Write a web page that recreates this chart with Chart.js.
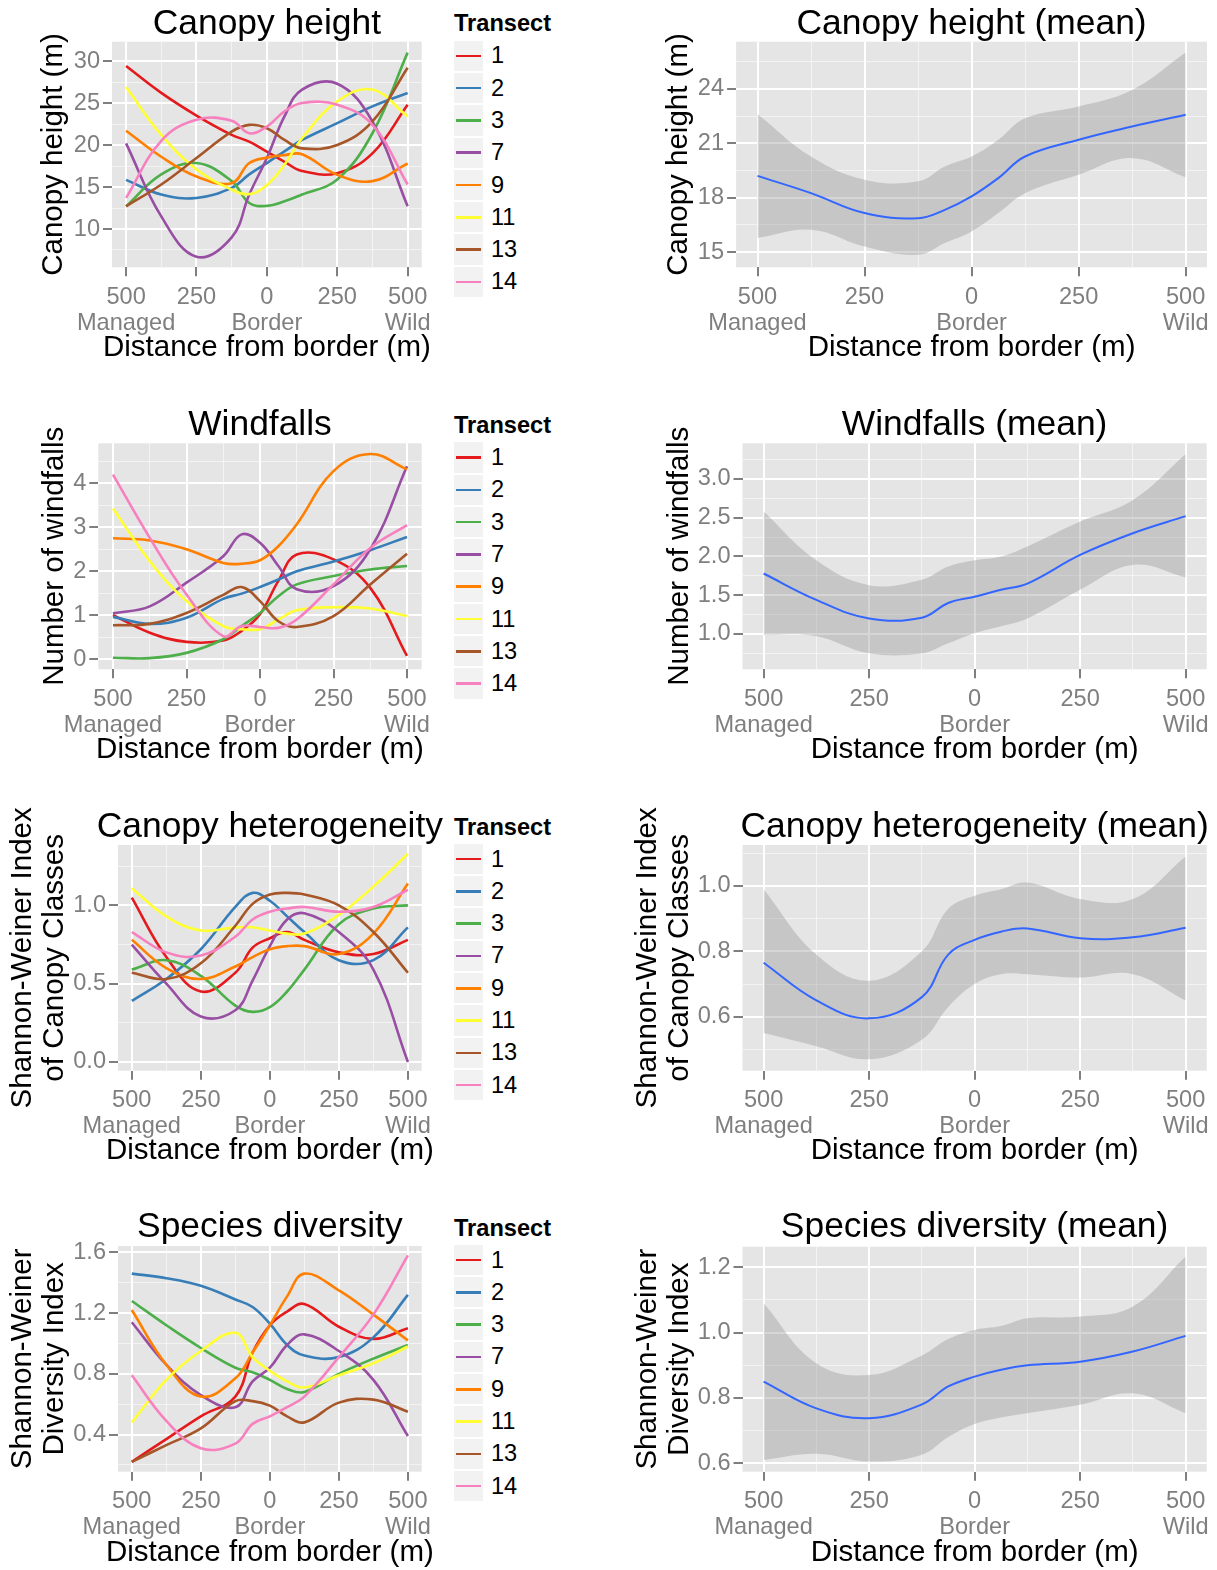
<!DOCTYPE html>
<html>
<head>
<meta charset="utf-8">
<script src="https://cdn.jsdelivr.net/npm/chart.js@4.4.0/dist/chart.umd.min.js"></script>
<style>
  body { margin: 0; width: 1217px; height: 1570px; overflow: hidden; background: #fff; position: relative; font-family: "Liberation Sans", Arial, sans-serif; }
  canvas { position: absolute; }
  .legend { position: absolute; left: 454px; }
  .legend .head { font-weight: bold; font-size: 23.6px; height: 30px; line-height: 30px; margin-bottom: 2.4px; white-space: nowrap; color: #000; }
  .legend .row { display: flex; align-items: center; height: 30.3px; margin-bottom: 2px; }
  .legend .key { width: 29px; height: 30.3px; background: #f2f2f2; position: relative; }
  .legend .key i { position: absolute; left: 2px; right: 2px; top: 50%; height: 2.6px; margin-top: -1.3px; }
  .legend .lab { margin-left: 8px; font-size: 23.6px; color: #000; }
</style>
</head>
<body>
<script>
// distance along transect (negative = managed side, positive = wild side)
const xs = [-500, -375, -250, -125, -62.5, 0, 62.5, 125, 250, 375, 500];
const transects = ['1', '2', '3', '7', '9', '11', '13', '14'];
const transectColors = ['#E41A1C', '#377EB8', '#4DAF4A', '#984EA3', '#FF7F00', '#FFFF33', '#A65628', '#F781BF'];

// x axis ticks
const xMajor = [-500, -250, 0, 250, 500];
const xMinor = [-375, -125, 125, 375];
const xTickText = [['500', 'Managed'], '250', ['0', 'Border'], '250', ['500', 'Wild']];

// one row per transect, same order as transects
const canopyHeight = [
  [29.4, 26.2, 23.5, 21.2, 20.4, 19.2, 18.0, 16.9, 16.65, 19.0, 24.8],
  [15.85, 14.1, 13.7, 14.9, 16.5, 17.85, 19.25, 20.6, 22.6, 24.6, 26.2],
  [12.7, 16.5, 17.85, 15.7, 13.1, 12.75, 13.3, 14.1, 15.9, 21.4, 31.0],
  [20.2, 11.5, 6.7, 9.0, 14.1, 18.45, 23.4, 26.6, 27.3, 22.8, 12.7],
  [21.7, 18.6, 16.25, 15.45, 17.85, 18.5, 18.8, 18.9, 16.45, 15.7, 17.8],
  [26.9, 21.2, 17.1, 14.7, 14.15, 15.25, 17.65, 20.8, 25.2, 26.6, 23.4],
  [12.7, 15.3, 18.45, 21.6, 22.4, 22.0, 20.6, 19.6, 20.0, 22.8, 29.2],
  [13.7, 20.5, 23.0, 22.9, 21.4, 22.2, 24.0, 25.0, 24.8, 22.4, 15.3]
];
const windfalls = [
  [1.0, 0.6, 0.39, 0.42, 0.64, 1.02, 1.78, 2.38, 2.27, 1.62, 0.07],
  [0.96, 0.8, 0.94, 1.37, 1.49, 1.64, 1.81, 2.0, 2.22, 2.48, 2.78],
  [0.03, 0.02, 0.14, 0.45, 0.75, 1.05, 1.43, 1.7, 1.89, 2.04, 2.12],
  [1.04, 1.2, 1.74, 2.34, 2.84, 2.65, 2.12, 1.59, 1.66, 2.5, 4.39],
  [2.75, 2.7, 2.5, 2.19, 2.17, 2.25, 2.57, 3.07, 4.28, 4.67, 4.32],
  [3.43, 2.23, 1.32, 0.75, 0.68, 0.68, 0.9, 1.11, 1.18, 1.15, 0.98],
  [0.77, 0.8, 1.05, 1.46, 1.64, 1.32, 0.86, 0.73, 0.98, 1.7, 2.4],
  [4.2, 2.76, 1.47, 0.52, 0.75, 0.73, 0.71, 0.9, 1.7, 2.53, 3.05]
];
const canopyHet = [
  [1.05, 0.67, 0.45, 0.57, 0.73, 0.79, 0.83, 0.78, 0.70, 0.69, 0.78],
  [0.39, 0.53, 0.72, 0.99, 1.08, 1.03, 0.93, 0.83, 0.65, 0.65, 0.86],
  [0.59, 0.65, 0.55, 0.36, 0.32, 0.35, 0.45, 0.59, 0.88, 0.98, 1.0],
  [0.75, 0.5, 0.29, 0.33, 0.52, 0.74, 0.91, 0.95, 0.83, 0.59, 0.0],
  [0.78, 0.6, 0.53, 0.61, 0.67, 0.72, 0.74, 0.74, 0.69, 0.82, 1.14],
  [1.11, 0.93, 0.84, 0.86, 0.86, 0.84, 0.82, 0.82, 0.94, 1.12, 1.33],
  [0.57, 0.53, 0.63, 0.87, 1.01, 1.07, 1.08, 1.07, 1.0, 0.83, 0.57],
  [0.83, 0.7, 0.68, 0.8, 0.91, 0.96, 0.98, 0.99, 0.96, 0.99, 1.1]
];
const speciesDiv = [
  [0.22, 0.37, 0.52, 0.65, 0.94, 1.12, 1.21, 1.26, 1.11, 1.03, 1.1],
  [1.46, 1.43, 1.38, 1.29, 1.24, 1.13, 0.99, 0.92, 0.91, 1.04, 1.32],
  [1.28, 1.12, 0.97, 0.84, 0.81, 0.76, 0.7, 0.68, 0.8, 0.9, 0.99],
  [1.14, 0.86, 0.66, 0.58, 0.75, 0.84, 0.99, 1.06, 0.95, 0.76, 0.39],
  [1.22, 0.86, 0.65, 0.77, 0.94, 1.12, 1.31, 1.46, 1.35, 1.19, 1.02],
  [0.48, 0.76, 0.95, 1.07, 0.91, 0.82, 0.75, 0.71, 0.79, 0.87, 0.98],
  [0.22, 0.33, 0.44, 0.62, 0.62, 0.59, 0.52, 0.48, 0.61, 0.63, 0.55],
  [0.79, 0.49, 0.31, 0.34, 0.47, 0.52, 0.58, 0.65, 0.91, 1.19, 1.58]
];

// smoothed means with confidence band
const canopyMean = [19.2, 18.25, 17.15, 16.87, 17.33, 18.07, 19.08, 20.27, 21.19, 21.92, 22.57];
const canopyUpper = [22.62, 20.27, 18.99, 18.9, 19.72, 20.27, 21.19, 22.38, 23.03, 23.94, 26.0];
const canopyLower = [15.77, 16.23, 15.31, 14.85, 15.5, 16.14, 17.15, 18.25, 19.26, 20.18, 19.13];
const windMean = [1.78, 1.44, 1.2, 1.21, 1.4, 1.48, 1.57, 1.65, 2.02, 2.3, 2.52];
const windUpper = [2.58, 1.95, 1.63, 1.7, 1.87, 1.95, 2.0, 2.13, 2.45, 2.73, 3.32];
const windLower = [0.99, 0.97, 0.75, 0.75, 0.88, 1.01, 1.1, 1.2, 1.57, 1.89, 1.73];
const hetMean = [0.765, 0.65, 0.595, 0.66, 0.79, 0.835, 0.86, 0.87, 0.84, 0.843, 0.872];
const hetUpper = [0.99, 0.79, 0.71, 0.8, 0.93, 0.97, 0.99, 1.01, 0.96, 0.96, 1.09];
const hetLower = [0.55, 0.51, 0.47, 0.53, 0.63, 0.70, 0.73, 0.73, 0.72, 0.73, 0.65];
const divMean = [0.85, 0.768, 0.738, 0.78, 0.835, 0.865, 0.886, 0.9, 0.911, 0.942, 0.99];
const divUpper = [1.09, 0.906, 0.87, 0.93, 0.98, 1.008, 1.02, 1.044, 1.049, 1.08, 1.233];
const divLower = [0.61, 0.629, 0.605, 0.626, 0.68, 0.72, 0.74, 0.753, 0.779, 0.814, 0.753];

const FONT = '"Liberation Sans", Arial, Helvetica, sans-serif';
Chart.defaults.font.family = FONT;
Chart.defaults.color = '#7f7f7f';

// grey panel background
const panelBg = {
  id: 'panelBg',
  beforeDraw(chart) {
    const { ctx, chartArea: a } = chart;
    ctx.save();
    ctx.fillStyle = '#e5e5e5';
    ctx.fillRect(a.left, a.top, a.right - a.left, a.bottom - a.top);
    ctx.restore();
  }
};

// panel title and axis titles, centred on the panel and never squeezed
const panelText = {
  id: 'panelText',
  afterDraw(chart, args, o) {
    const { ctx, chartArea: a } = chart;
    const midX = (a.left + a.right) / 2;
    const midY = (a.top + a.bottom) / 2;
    ctx.save();
    ctx.fillStyle = '#000';
    ctx.textAlign = 'center';
    ctx.textBaseline = 'middle';
    ctx.font = '35.4px ' + FONT;
    ctx.fillText(o.title, midX, o.titleY);
    ctx.font = '29.5px ' + FONT;
    ctx.fillText(o.xTitle, midX, o.xTitleY);
    [].concat(o.yTitle).forEach((t, i) => {
      ctx.save();
      ctx.translate(o.yTitleX + i * 32, midY);
      ctx.rotate(-Math.PI / 2);
      ctx.fillText(t, 0, 0);
      ctx.restore();
    });
    ctx.restore();
  }
};

const toPts = (vals) => xs.map((x, i) => ({ x: x, y: vals[i] }));

function makeChart(p, datasets) {
  const [cx, cy, cw, ch] = p.box;
  const [al, at, ar, ab] = p.area;
  const canvas = document.createElement('canvas');
  canvas.width = cw;
  canvas.height = ch;
  canvas.style.left = cx + 'px';
  canvas.style.top = cy + 'px';
  canvas.style.width = cw + 'px';
  canvas.style.height = ch + 'px';
  document.body.appendChild(canvas);

  const yTicks = p.yMajor.concat(p.yMinor).sort((a, b) => a - b);
  const xTicks = xMajor.concat(xMinor).sort((a, b) => a - b);
  const gridColor = (major) => (ctx) => major.includes(ctx.tick.value) ? '#ffffff' : 'rgba(255,255,255,0.55)';
  const gridWidth = (major) => (ctx) => major.includes(ctx.tick.value) ? 2 : 1;
  const tickColor = (major) => (ctx) => major.includes(ctx.tick.value) ? '#7f7f7f' : 'rgba(0,0,0,0)';

  return new Chart(canvas, {
    type: 'line',
    data: { datasets: datasets },
    options: {
      responsive: false,
      animation: false,
      devicePixelRatio: 1,
      layout: { padding: { left: 0, top: at - cy, right: cx + cw - ar, bottom: 0 } },
      plugins: {
        legend: { display: false },
        tooltip: { enabled: false },
        title: { display: false },
        panelText: {
          title: p.title, titleY: p.titleY - cy,
          xTitle: 'Distance from border (m)', xTitleY: p.xTitleY - cy,
          yTitle: p.yTitle, yTitleX: p.yTitleX - cx
        }
      },
      scales: {
        x: {
          type: 'linear',
          min: -550,
          max: 550,
          afterFit: (s) => { s.height = cy + ch - ab; },
          afterBuildTicks: (s) => { s.ticks = xTicks.map((v) => ({ value: v })); },
          border: { display: false },
          grid: { color: gridColor(xMajor), lineWidth: gridWidth(xMajor), tickColor: tickColor(xMajor), tickLength: 9, tickWidth: 2 },
          ticks: {
            autoSkip: false, maxRotation: 0, minRotation: 0, padding: 8,
            color: '#7f7f7f', font: { size: 23.6, lineHeight: 26 / 23.6 },
            callback: (v) => { const i = xMajor.indexOf(v); return i >= 0 ? xTickText[i] : ''; }
          },
          title: { display: false }
        },
        y: {
          type: 'linear',
          min: p.yMin,
          max: p.yMax,
          afterFit: (s) => { s.width = al - cx; },
          afterBuildTicks: (s) => { s.ticks = yTicks.map((v) => ({ value: v })); },
          border: { display: false },
          grid: { color: gridColor(p.yMajor), lineWidth: gridWidth(p.yMajor), tickColor: tickColor(p.yMajor), tickLength: 9, tickWidth: 2 },
          ticks: {
            autoSkip: false, padding: 3, color: '#7f7f7f', font: { size: 23.6 },
            callback: (v) => p.yMajor.includes(v) ? v.toFixed(p.digits) : ''
          },
          title: { display: false }
        }
      }
    },
    plugins: [panelBg, panelText]
  });
}

function buildLegend(chart, centerY) {
  const box = document.createElement('div');
  box.className = 'legend';
  box.style.top = (centerY - 15) + 'px';
  const head = document.createElement('div');
  head.className = 'head';
  head.textContent = 'Transect';
  box.appendChild(head);
  chart.data.datasets.forEach((ds) => {
    const row = document.createElement('div');
    row.className = 'row';
    const key = document.createElement('span');
    key.className = 'key';
    const line = document.createElement('i');
    line.style.background = ds.borderColor;
    key.appendChild(line);
    const lab = document.createElement('span');
    lab.className = 'lab';
    lab.textContent = ds.label;
    row.appendChild(key);
    row.appendChild(lab);
    box.appendChild(row);
  });
  document.body.appendChild(box);
}

// left column: one line per transect
const leftPanels = [
  { title: 'Canopy height', yTitle: 'Canopy height (m)', series: canopyHeight,
    yMin: 5.44, yMax: 32.3, yMajor: [10, 15, 20, 25, 30], yMinor: [7.5, 12.5, 17.5, 22.5, 27.5], digits: 0,
    box: [0, 0, 450, 400], area: [112, 41.7, 421.7, 267.3], titleY: 24.5, xTitleY: 348, yTitleX: 54, legendY: 23.3 },
  { title: 'Windfalls', yTitle: 'Number of windfalls', series: windfalls,
    yMin: -0.234, yMax: 4.914, yMajor: [0, 1, 2, 3, 4], yMinor: [0.5, 1.5, 2.5, 3.5, 4.5], digits: 0,
    box: [0, 400, 450, 400], area: [98.3, 443.3, 421.7, 669.3], titleY: 425.5, xTitleY: 749.5, yTitleX: 54.5, legendY: 425 },
  { title: 'Canopy heterogeneity', yTitle: ['Shannon-Weiner Index', 'of Canopy Classes'], series: canopyHet,
    yMin: -0.056, yMax: 1.386, yMajor: [0, 0.5, 1], yMinor: [0.25, 0.75, 1.25], digits: 1,
    box: [0, 800, 450, 400], area: [118, 845, 421.7, 1070.7], titleY: 827, xTitleY: 1151, yTitleX: 22.5, legendY: 826.5 },
  { title: 'Species diversity', yTitle: ['Shannon-Weiner', 'Diversity Index'], series: speciesDiv,
    yMin: 0.155, yMax: 1.642, yMajor: [0.4, 0.8, 1.2, 1.6], yMinor: [0.2, 0.6, 1.0, 1.4], digits: 1,
    box: [0, 1200, 450, 370], area: [118, 1246, 421.7, 1471.7], titleY: 1227, xTitleY: 1552.5, yTitleX: 22.5, legendY: 1227.5 }
];

leftPanels.forEach((p) => {
  const datasets = transects.map((t, i) => ({
    label: t,
    data: toPts(p.series[i]),
    borderColor: transectColors[i],
    borderWidth: 2.6,
    pointRadius: 0,
    tension: 0.4,
    fill: false,
    order: transects.length - i
  }));
  const chart = makeChart(p, datasets);
  buildLegend(chart, p.legendY);
});

// right column: mean smoother with grey band
const rightPanels = [
  { title: 'Canopy height (mean)', yTitle: 'Canopy height (m)', mean: canopyMean, upper: canopyUpper, lower: canopyLower,
    yMin: 14.16, yMax: 26.6, yMajor: [15, 18, 21, 24], yMinor: [16.5, 19.5, 22.5, 25.5], digits: 0,
    box: [630, 0, 587, 400], area: [736.1, 41.7, 1207.4, 267.3], titleY: 24.5, xTitleY: 348, yTitleX: 679 },
  { title: 'Windfalls (mean)', yTitle: 'Number of windfalls', mean: windMean, upper: windUpper, lower: windLower,
    yMin: 0.544, yMax: 3.46, yMajor: [1, 1.5, 2, 2.5, 3], yMinor: [0.75, 1.25, 1.75, 2.25, 2.75, 3.25], digits: 1,
    box: [630, 400, 587, 400], area: [742.5, 443.3, 1207.1, 669.3], titleY: 425.5, xTitleY: 749.5, yTitleX: 680 },
  { title: 'Canopy heterogeneity (mean)', yTitle: ['Shannon-Weiner Index', 'of Canopy Classes'], mean: hetMean, upper: hetUpper, lower: hetLower,
    yMin: 0.435, yMax: 1.125, yMajor: [0.6, 0.8, 1.0], yMinor: [0.5, 0.7, 0.9, 1.1], digits: 1,
    box: [630, 800, 587, 400], area: [742.5, 845, 1207.1, 1070.7], titleY: 827, xTitleY: 1151, yTitleX: 648 },
  { title: 'Species diversity (mean)', yTitle: ['Shannon-Weiner', 'Diversity Index'], mean: divMean, upper: divUpper, lower: divLower,
    yMin: 0.574, yMax: 1.263, yMajor: [0.6, 0.8, 1.0, 1.2], yMinor: [0.7, 0.9, 1.1], digits: 1,
    box: [630, 1200, 587, 370], area: [742.5, 1246.7, 1207.1, 1471.7], titleY: 1227, xTitleY: 1552.5, yTitleX: 648 }
];

rightPanels.forEach((p) => {
  const datasets = [
    { label: 'mean', data: toPts(p.mean), borderColor: '#3366FF', borderWidth: 2, pointRadius: 0, tension: 0.4, fill: false },
    { label: 'upper', data: toPts(p.upper), borderWidth: 0, borderColor: 'rgba(0,0,0,0)', pointRadius: 0, tension: 0.4,
      fill: '+1', backgroundColor: 'rgba(153,153,153,0.4)' },
    { label: 'lower', data: toPts(p.lower), borderWidth: 0, borderColor: 'rgba(0,0,0,0)', pointRadius: 0, tension: 0.4, fill: false }
  ];
  makeChart(p, datasets);
});
</script>
</body>
</html>
